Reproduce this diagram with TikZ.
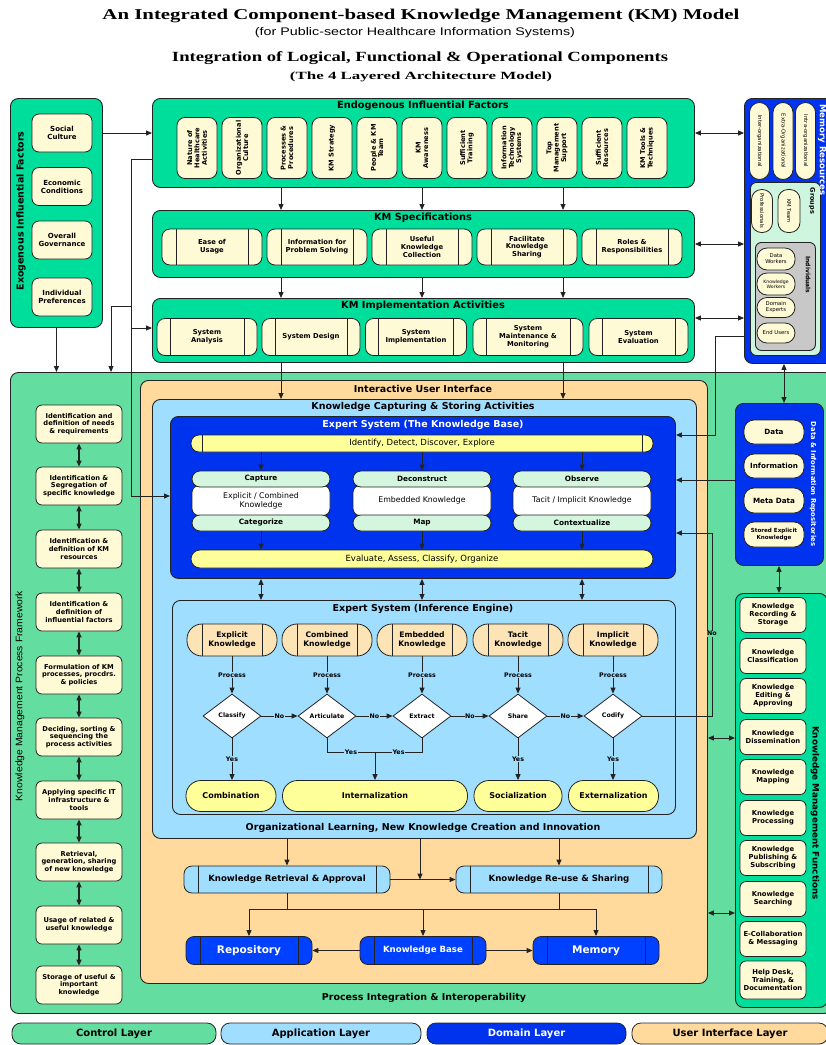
\documentclass[tikz,border=0pt]{standalone}
\usepackage{fontspec}
\usetikzlibrary{arrows.meta,shapes.geometric}
\newfontfamily\vf{DejaVu Sans}
\newfontfamily\hdserif{Liberation Serif}
\newfontfamily\nrw{Liberation Sans}
\newcommand\fitw[2]{\resizebox{#1}{\height}{#2}}
\newcommand\fsz[2]{\fontsize{#1}{#2}\selectfont}

\definecolor{kteal}{RGB}{0,222,155}
\definecolor{kctrl}{RGB}{100,222,160}
\definecolor{kcream}{RGB}{255,250,214}
\definecolor{kpeach}{RGB}{255,218,156}
\definecolor{klblue}{RGB}{160,222,255}
\definecolor{kdblue}{RGB}{0,51,238}
\definecolor{kbtn}{RGB}{0,64,255}
\definecolor{kyel}{RGB}{255,255,153}
\definecolor{kmint}{RGB}{212,245,222}
\definecolor{kipeach}{RGB}{253,228,182}
\definecolor{kgrp}{RGB}{206,246,222}
\definecolor{kgrey}{RGB}{200,200,200}
\definecolor{kline}{RGB}{35,35,35}

\tikzset{
  wh/.style 2 args={minimum width=#1pt,minimum height=#2pt},
  lay/.style={draw=kline,line width=0.9pt,rounded corners=8pt,anchor=north west,inner sep=0pt},
  itm/.style={draw=kline,line width=0.8pt,fill=kcream,rounded corners=5pt,align=center,inner sep=0pt,font=\vf\bfseries\fsz{7}{8}},
  bars/.style={path picture={
     \draw[kline,line width=0.8pt] ([xshift=#1]path picture bounding box.north west) -- ([xshift=#1]path picture bounding box.south west);
     \draw[kline,line width=0.8pt] ([xshift=-#1]path picture bounding box.north east) -- ([xshift=-#1]path picture bounding box.south east);}},
  ttl/.style={inner sep=0pt,font=\vf\bfseries\fsz{9.5}{11}},
  btl/.style={inner sep=0pt,font=\vf\bfseries\fsz{9.8}{11}},
  vt/.style={rotate=90,align=center,inner sep=0pt,font=\vf\bfseries\fsz{6.6}{7.4}},
  rt/.style={rotate=-90,align=center,inner sep=0pt},
  arr/.style={draw=kline,line width=1pt,-{Triangle[length=6pt,width=5pt]}},
  darr/.style={draw=kline,line width=1pt,{Triangle[length=6pt,width=5pt]}-{Triangle[length=6pt,width=5pt]}},
  ln/.style={draw=kline,line width=1pt},
  lbl/.style={inner sep=0.6pt,font=\vf\bfseries\fsz{6.3}{7}},
  specitm/.style={itm,bars=14pt,rounded corners=8pt,font=\vf\bfseries\fsz{6.8}{7.8}},
  tinyitm/.style={itm,rounded corners=10pt,font=\vf\fsz{5.3}{6}},
  pill/.style={itm,fill=kyel,rounded corners=15pt,font=\vf\bfseries\fsz{8}{9}},
  blk/.style={itm,fill=kbtn,text=white,bars=14pt,rounded corners=8pt},
  lgd/.style={itm,rounded corners=9pt,font=\vf\bfseries\fsz{10}{11}},
}

\begin{document}
\begin{tikzpicture}[x=1pt,y=-1pt]
\useasboundingbox (0,0) rectangle (826,1045);
\fill[white] (0,0) rectangle (826,1045);

% ---------- headings ----------
\node[inner sep=0pt,font=\hdserif\bfseries\fsz{15}{17}] (h1) at (421,16) {\fitw{637pt}{An Integrated Component-based Knowledge Management (KM) Model}};
\node[inner sep=0pt,font=\nrw\fsz{11}{13}] (h2) at (415,33) {\fitw{320pt}{(for Public-sector Healthcare Information Systems)}};
\node[inner sep=0pt,font=\hdserif\bfseries\fsz{14}{16}] (h3) at (420,58) {\fitw{496pt}{Integration of Logical, Functional \& Operational Components}};
\node[inner sep=0pt,font=\hdserif\bfseries\fsz{11}{13}] (h4) at (421,77) {\fitw{262pt}{(The 4 Layered Architecture Model)}};

% ---------- layer panels ----------
\node[lay,fill=kctrl,wh={822}{641}] (ctrl) at (10,372) {};
\node[lay,fill=kteal,wh={92}{229}] (exo) at (10,98) {};
\node[lay,fill=kteal,wh={542}{89}] (endo) at (152,98) {};
\node[lay,fill=kteal,wh={542}{67}] (spec) at (152,210) {};
\node[lay,fill=kteal,wh={542}{64}] (impl) at (152,298) {};
\node[lay,fill=kdblue,wh={92}{265}] (mem) at (744,98) {};
\node[lay,fill=kpeach,wh={567}{603}] (ui) at (140,380) {};
\node[lay,fill=klblue,wh={544}{439}] (app) at (152,399) {};
\node[lay,fill=kdblue,wh={505}{162}] (kb) at (170,416) {};
\node[lay,fill=klblue,wh={503}{214}] (ie) at (172,600) {};
\node[lay,fill=kdblue,wh={88}{162}] (drep) at (735,403) {};
\node[lay,fill=kteal,wh={92}{414}] (kmf) at (735,593) {};
\node[lay,fill=kgrp,wh={70}{173},rounded corners=6pt] (grp) at (750,182) {};
\node[lay,fill=kgrey,wh={60}{108},rounded corners=6pt] (ind) at (755,242) {};

% ---------- exogenous factors ----------
\node[ttl,rotate=90] (exot) at (21,211) {Exogenous Influential Factors};
\node[itm,wh={60}{38},rounded corners=7pt] (ex1) at (62,133) {Social\\Culture};
\node[itm,wh={60}{38},rounded corners=7pt] (ex2) at (62,186.5) {Economic\\Conditions};
\node[itm,wh={60}{38},rounded corners=7pt] (ex3) at (62,240) {Overall\\Governance};
\node[itm,wh={60}{38},rounded corners=7pt] (ex4) at (62,297) {Individual\\Preferences};

% ---------- endogenous factors ----------
\node[btl] (endot) at (423,106) {Endogenous Influential Factors};
\foreach \i/\t in {1/{Nature of\\Healthcare\\Activities},2/{Organizational\\Culture},3/{Processes \&\\Procedures},4/{KM Strategy},5/{People \& KM\\Team},6/{KM\\Awareness},7/{Sufficient\\Training},8/{Information\\Technology\\Systems},9/{Top\\Management\\Support},10/{Sufficient\\Resources},11/{KM Tools \&\\Techniques}}{
  \node[itm,wh={40}{61},rounded corners=8pt] (en\i) at ({152+45*\i},148) {};
  \node[vt] (en\i t) at (en\i) {\t};
}

% ---------- KM specifications ----------
\node[btl] (spect) at (423,218) {KM Specifications};
\foreach \i/\t in {1/{Ease of\\Usage},2/{Information for\\Problem Solving},3/{Useful\\Knowledge\\Collection},4/{Facilitate\\Knowledge\\Sharing},5/{Roles \&\\Responsibilities}}{
  \node[specitm,wh={100}{36}] (sp\i) at ({107+105*\i},247) {\t};
}

% ---------- KM implementation ----------
\node[btl] (implt) at (423,306) {KM Implementation Activities};
\node[specitm,bars=13pt,wh={100}{37}] (im1) at (207,337) {System\\Analysis};
\node[specitm,bars=13pt,wh={98}{37}] (im2) at (311,337) {System Design};
\node[specitm,bars=13pt,wh={101}{37}] (im3) at (416,337) {System\\Implementation};
\node[specitm,bars=13pt,wh={110}{37}] (im4) at (528,337) {System\\Maintenance \&\\Monitoring};
\node[specitm,bars=13pt,wh={99}{37}] (im5) at (638.5,337) {System\\Evaluation};

% ---------- memory resources ----------
\node[rt,text=white,font=\vf\bfseries\fsz{8.5}{9}] (memt) at (822,150) {Memory Resources};
\node[tinyitm,wh={20}{77}] (mr1) at (759.5,141) {};
\node[tinyitm,wh={20}{77}] (mr2) at (783,141) {};
\node[tinyitm,wh={20}{77}] (mr3) at (805.5,141) {};
\node[rt,font=\vf\fsz{5.3}{6}] (mr1t) at (mr1) {Inter-organizational};
\node[rt,font=\vf\fsz{5.3}{6}] (mr2t) at (mr2) {Extra-Organizational};
\node[rt,font=\vf\fsz{5.3}{6}] (mr3t) at (mr3) {Intra-organizational};
\node[rt,font=\vf\bfseries\fsz{6.5}{7}] (grpt) at (812,201) {Groups};
\node[tinyitm,wh={21}{43}] (gr1) at (762,211) {};
\node[tinyitm,wh={22}{43}] (gr2) at (789,211) {};
\node[rt,font=\vf\fsz{5.3}{6}] (gr1t) at (gr1) {Professionals};
\node[rt,font=\vf\fsz{5.3}{6}] (gr2t) at (gr2) {KM Team};
\node[rt,font=\vf\bfseries\fsz{6}{7}] (indt) at (808,275) {Individuals};
\node[tinyitm,wh={38}{22}] (iv1) at (776,259) {Data\\Workers};
\node[tinyitm,wh={38}{22},font=\vf\fsz{4.6}{5.4}] (iv2) at (776,284) {Knowledge\\Workers};
\node[tinyitm,wh={38}{20}] (iv3) at (776,307.5) {Domain\\Experts};
\node[tinyitm,wh={38}{20}] (iv4) at (776,333) {End Users};

% ---------- process framework (control layer) ----------
\node[inner sep=0pt,rotate=90,font=\nrw\fsz{9.5}{10}] (ctrlt) at (20,696) {\fitw{210pt}{Knowledge Management Process Framework}};
\node[ttl] (ctrlb) at (424,998) {Process Integration \& Interoperability};
\foreach \i/\y/\t in {1/424/{Identification and\\definition of needs\\\& requirements},2/486/{Identification \&\\Segregation of\\specific knowledge},3/549/{Identification \&\\definition of KM\\resources},4/612/{Identification \&\\definition of\\influential factors},5/675/{Formulation of KM\\processes, procdrs.\\\& policies},6/737/{Deciding, sorting \&\\sequencing the\\process activities},7/800/{Applying specific IT\\infrastructure \&\\tools},8/862/{Retrieval,\\generation, sharing\\of new knowledge},9/925/{Usage of related \&\\useful knowledge},10/985/{Storage of useful \&\\important\\knowledge}}{
  \node[itm,wh={86}{38},rounded corners=6pt,font=\vf\bfseries\fsz{6.7}{7.8}] (p\i) at (79,\y) {\t};
}
\foreach \i/\j in {1/2,2/3,3/4,4/5,5/6,6/7,7/8,8/9,9/10}{
  \draw[darr,line width=1.6pt] (p\i.south) -- (p\j.north);
}

% ---------- interface / application layers ----------
\node[ttl] (uit) at (423,389) {Interactive User Interface};
\node[ttl] (appt) at (423,407) {Knowledge Capturing \& Storing Activities};
\node[ttl] (appb) at (423,828) {Organizational Learning, New Knowledge Creation and Innovation};

% ---------- knowledge base ----------
\node[ttl,text=white] (kbt) at (423,425) {Expert System (The Knowledge Base)};
\node[itm,fill=kyel,bars=11pt,wh={462}{17},rounded corners=8pt,font=\vf\fsz{8.5}{9}] (idb) at (422,443.5) {Identify, Detect, Discover, Explore};
\node[itm,fill=kyel,wh={462}{18},rounded corners=9pt,font=\vf\fsz{8.5}{9}] (evb) at (422,559) {Evaluate, Assess, Classify, Organize};
\foreach \c/\x/\a/\b/\d in {1/261/Capture/{Explicit / Combined\\Knowledge}/Categorize,2/422/Deconstruct/{Embedded Knowledge}/Map,3/582/Observe/{Tacit / Implicit Knowledge}/Contextualize}{
  \node[itm,fill=white,wh={138}{30},rounded corners=7pt,font=\vf\fsz{7.8}{8.8}] (kw\c) at (\x,500.5) {\b};
  \node[itm,fill=kmint,wh={138}{16},rounded corners=8pt,font=\vf\bfseries\fsz{7.3}{8}] (kc\c) at (\x,479) {\a};
  \node[itm,fill=kmint,wh={138}{16},rounded corners=8pt,font=\vf\bfseries\fsz{7.3}{8}] (kg\c) at (\x,523) {\d};
  \draw[arr] (idb.south -| kc\c) -- (kc\c.north);
  \draw[arr] (kg\c.south) -- (evb.north -| kg\c);
  \draw[darr] (kb.south -| kg\c) -- (ie.north -| kg\c);
}

% ---------- inference engine ----------
\node[ttl] (iet) at (423,609) {Expert System (Inference Engine)};
\foreach \i/\x/\a/\b in {1/232/Explicit/Classify,2/327/Combined/Articulate,3/422/Embedded/Extract,4/518/Tacit/Share,5/613/Implicit/Codify}{
  \node[itm,fill=kipeach,bars=15pt,wh={90}{32},rounded corners=15pt,font=\vf\bfseries\fsz{7.6}{9}] (kp\i) at (\x,640) {\a\\Knowledge};
  \node[diamond,draw=kline,line width=0.8pt,fill=white,minimum width=58pt,minimum height=44pt,inner sep=0pt,font=\vf\bfseries\fsz{6.2}{7}] (dm\i) at (\x,716) {\b};
  \draw[arr] (kp\i.south) -- node[lbl,fill=klblue] {Process} (dm\i.north);
}
\foreach \i/\j in {1/2,2/3,3/4,4/5}{
  \draw[arr] (dm\i.east) -- node[lbl,fill=klblue] {No} (dm\j.west);
}
\node[pill,wh={90}{31}] (rs1) at (231,796) {Combination};
\node[pill,wh={185}{31}] (rs2) at (375,796) {Internalization};
\node[pill,wh={88}{31}] (rs3) at (518,796) {Socialization};
\node[pill,wh={90}{31}] (rs4) at (613.5,796) {Externalization};
\coordinate (yj) at (375,752);
\draw[arr] (dm1.south) -- node[lbl,fill=klblue] {Yes} (dm1.south |- rs1.north);
\draw[ln] (dm2.south) |- node[lbl,fill=klblue,pos=0.75] {Yes} (yj);
\draw[ln] (dm3.south) |- node[lbl,fill=klblue,pos=0.75] {Yes} (yj);
\draw[arr] (yj) -- (yj |- rs2.north);
\draw[arr] (dm4.south) -- node[lbl,fill=klblue] {Yes} (dm4.south |- rs3.north);
\draw[arr] (dm5.south) -- node[lbl,fill=klblue] {Yes} (dm5.south |- rs4.north);
\draw[arr] (dm5.east) -- (712,716) -- node[lbl,fill=kctrl,pos=0.45] {No} (712,533) -- (kb.east |- 0,533);

% ---------- retrieval, sharing and storage ----------
\node[itm,fill=klblue,bars=14pt,wh={206}{27},rounded corners=8pt,font=\vf\bfseries\fsz{8.6}{9}] (retr) at (287,879.5) {Knowledge Retrieval \& Approval};
\node[itm,fill=klblue,bars=14pt,wh={206}{27},rounded corners=8pt,font=\vf\bfseries\fsz{8.6}{9}] (reuse) at (559,879.5) {Knowledge Re-use \& Sharing};
\node[blk,wh={126}{28},font=\vf\bfseries\fsz{10.5}{11}] (repo) at (249,950.5) {Repository};
\node[blk,wh={126}{28},font=\vf\bfseries\fsz{8.6}{9}] (kbase) at (423,950.5) {Knowledge Base};
\node[blk,wh={126}{28},font=\vf\bfseries\fsz{10.5}{11}] (memo) at (596,950.5) {Memory};
\coordinate (mj) at (420,879.5);
\draw[arr] (app.south -| retr) -- (retr.north);
\draw[arr] (app.south -| mj) -- (mj);
\draw[arr] (app.south -| reuse) -- (reuse.north);
\draw[arr] (retr.east) -- (reuse.west);
\draw[ln] (retr.south) -- (287,909);
\draw[ln] (reuse.south) -- (559,909);
\draw[ln] (249,909) -- (597,909);
\draw[arr] (249,909) -- (repo.north);
\draw[arr] (423,909) -- (kbase.north);
\draw[arr] (596,909) -- (memo.north);
\draw[arr] (kbase.west) -- (repo.east);
\draw[arr] (kbase.east) -- (memo.west);

% ---------- data & information repositories ----------
\node[rt,text=white,font=\vf\bfseries\fsz{6.8}{8}] (drept) at (813,484) {Data \& Information Repositories};
\node[itm,wh={60}{24},rounded corners=10pt,font=\vf\bfseries\fsz{7.2}{8}] (d1) at (774,432) {Data};
\node[itm,wh={60}{24},rounded corners=10pt,font=\vf\bfseries\fsz{7.2}{8}] (d2) at (774,466) {Information};
\node[itm,wh={60}{25},rounded corners=10pt,font=\vf\bfseries\fsz{7.2}{8}] (d3) at (774,500.5) {Meta Data};
\node[itm,wh={60}{25},rounded corners=10pt,font=\vf\bfseries\fsz{5.6}{6.6}] (d4) at (774,534.5) {Stored Explicit\\Knowledge};

% ---------- KM functions ----------
\node[rt,font=\vf\bfseries\fsz{8.8}{10}] (kmft) at (815,813) {Knowledge Management Functions};
\foreach \i/\y/\h/\t in {1/615/35/{Knowledge\\Recording \&\\Storage},2/656/35/{Knowledge\\Classification},3/696/35/{Knowledge\\Editing \&\\Approving},4/737/35/{Knowledge\\Dissemination},5/777/35/{Knowledge\\Mapping},6/818/35/{Knowledge\\Processing},7/858/35/{Knowledge\\Publishing \&\\Subscribing},8/899/35/{Knowledge\\Searching},9/939/35/{E-Collaboration\\\& Messaging},10/980/38/{Help Desk,\\Training, \&\\Documentation}}{
  \node[itm,wh={66}{\h},rounded corners=6pt,font=\vf\bfseries\fsz{6.8}{7.9}] (f\i) at (773,\y) {\t};
}

% ---------- connectors between layers ----------
\draw[arr] (exo.east |- ex1) -- (endo.west |- ex1);
\foreach \x in {281,422,563}{
  \draw[arr] (endo.south -| \x,0) -- (spec.north -| \x,0);
  \draw[arr] (spec.south -| \x,0) -- (impl.north -| \x,0);
}
\draw[arr] (impl.south -| 281,0) -- (app.north -| 281,0);
\draw[arr] (impl.south -| 563,0) -- (app.north -| 563,0);
\draw[arr] (endo.west |- 0,159) -- (131,159) -- (131,496) -- (kb.west |- 0,496);
\draw[arr] (131,328) -- (impl.west |- 0,328);
\draw[arr] (131,306) -- (111,306) -- (ctrl.north -| 111,0);
\draw[arr] (exo.south) -- (ctrl.north -| exo.south);
\draw[darr] (endo.east |- 0,133) -- (mem.west |- 0,133);
\draw[darr] (spec.east |- 0,244) -- (mem.west |- 0,244);
\draw[darr] (impl.east |- 0,318) -- (mem.west |- 0,318);
\draw[arr] (mem.west |- 0,336) -- (715,336) -- (715,435) -- (kb.east |- 0,435);
\draw[darr] (mem.south -| 784,0) -- (drep.north -| 784,0);
\draw[arr] (drep.west |- 0,480) -- (kb.east |- 0,480);
\draw[darr] (drep.south -| 779,0) -- (kmf.north -| 779,0);
\draw[darr] (ui.east |- 0,738) -- (kmf.west |- 0,738);
\draw[darr] (ui.east |- 0,913) -- (kmf.west |- 0,913);

% ---------- legend ----------
\node[lgd,fill=kctrl,wh={204}{21}] (lg1) at (114,1033.5) {Control Layer};
\node[lgd,fill=klblue,wh={200}{21}] (lg2) at (321,1033.5) {Application Layer};
\node[lgd,fill=kdblue,text=white,wh={199}{21}] (lg3) at (526.5,1033.5) {Domain Layer};
\node[lgd,fill=kpeach,wh={196}{21}] (lg4) at (730,1033.5) {User Interface Layer};
\end{tikzpicture}
\end{document}
